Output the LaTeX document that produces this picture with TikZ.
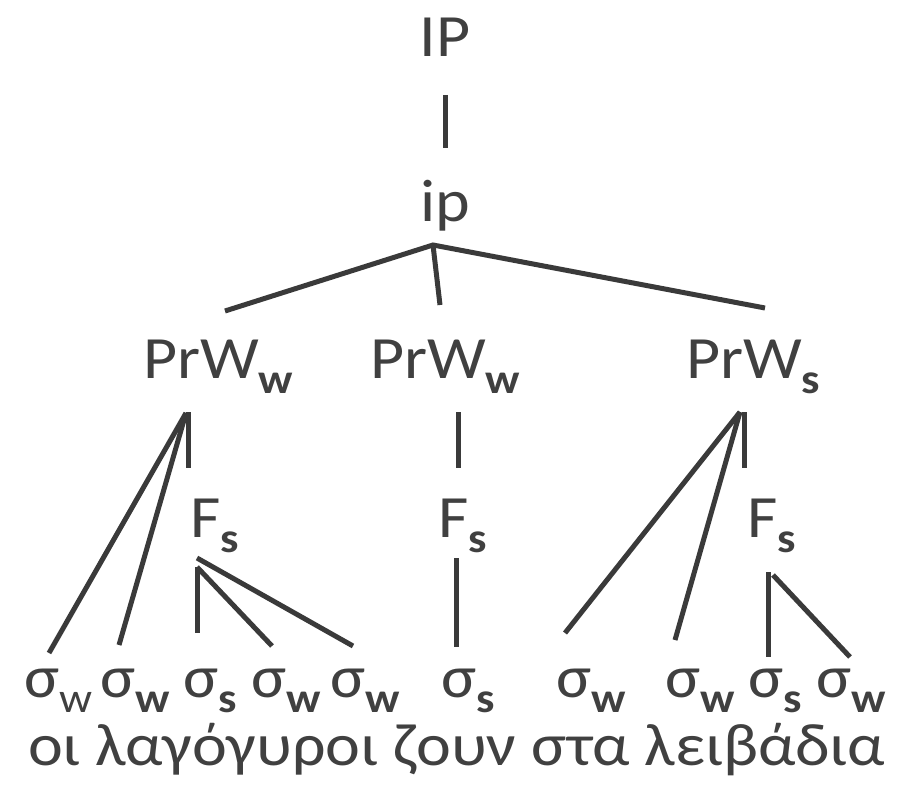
\documentclass[tikz,border=0pt]{standalone}
\usepackage{fontspec}
\setmainfont{Carlito}[FakeStretch=1.1]
\definecolor{txt}{HTML}{404040}
\definecolor{ln}{HTML}{3A3A3A}
\newcommand\mysub[1]{\raisebox{-15pt}{\fontsize{42}{42}\selectfont\bfseries #1}}
\newcommand\mysubr[1]{\raisebox{-15pt}{\fontsize{42}{42}\selectfont #1}}
\begin{document}
\begin{tikzpicture}[x=1pt,y=-1pt,
  lab/.style={inner sep=0pt,outer sep=0pt,anchor=base west,text=txt,font=\fontsize{60}{60}\selectfont},
  edge/.style={draw=ln,line width=5pt}]
\useasboundingbox (0,0) rectangle (912,791);
% labels
\node[lab,anchor=base] (IP) at (445,57) {IP};
\node[lab,anchor=base] (ip) at (445,222) {ip};
\node[lab] (pw1) at (143,378) {PrW\mysub{w}};
\node[lab] (pw2) at (370,378) {PrW\mysub{w}};
\node[lab] (pw3) at (686,378) {PrW\mysub{s}};
\node[lab] (f1) at (190,537) {F\mysub{s}};
\node[lab] (f2) at (438,537) {F\mysub{s}};
\node[lab] (f3) at (747,537) {F\mysub{s}};
\node[lab] (s1) at (24,697) {σ\mysubr{w}};
\node[lab] (s2) at (100,697) {σ\mysub{w}};
\node[lab] (s3) at (183,697) {σ\mysub{s}};
\node[lab] (s4) at (251,697) {σ\mysub{w}};
\node[lab] (s5) at (330,697) {σ\mysub{w}};
\node[lab] (s6) at (441,697) {σ\mysub{s}};
\node[lab] (s7) at (556,697) {σ\mysub{w}};
\node[lab] (s8) at (665,697) {σ\mysub{w}};
\node[lab] (s9) at (748,697) {σ\mysub{s}};
\node[lab] (s10) at (816,697) {σ\mysub{w}};
\node[lab] (gr) at (28,765) {οι λαγόγυροι ζουν στα λειβάδια};
% connector points
\coordinate (IPb) at (445,95);
\coordinate (ipt) at (445,148);
\coordinate (ipa) at (433,245);
\coordinate (p1t) at (225,311);
\coordinate (p2t) at (440,305);
\coordinate (p3t) at (765,308);
\coordinate (a1) at (186,413);
\coordinate (v1b) at (188,468);
\coordinate (v1t) at (188,412);
\coordinate (s1t) at (49,653);
\coordinate (s2t) at (119,645);
\coordinate (f1a) at (197,558);
\coordinate (f1b) at (197,567);
\coordinate (s3t) at (197,633);
\coordinate (s4t) at (272,646);
\coordinate (s5t) at (353,646);
\coordinate (v2t) at (458,412);
\coordinate (v2b) at (458,468);
\coordinate (f2b) at (456,558);
\coordinate (s6t) at (456,647);
\coordinate (a3) at (740,412);
\coordinate (v3t) at (744,412);
\coordinate (v3b) at (744,468);
\coordinate (s7t) at (565,633);
\coordinate (s8t) at (675,640);
\coordinate (f3a) at (768,572);
\coordinate (f3b) at (773,575);
\coordinate (s9t) at (768,657);
\coordinate (s10t) at (850,657);
% connectors
\draw[edge] (IPb) -- (ipt);
\draw[edge] (p1t) -- (ipa) -- (p3t);
\draw[edge] (ipa) -- (p2t);
\draw[edge] (v1t) -- (v1b);
\draw[edge] (a1) -- (s1t);
\draw[edge] (a1) -- (s2t);
\draw[edge] (f1a) -- (s5t);
\draw[edge] (f1b) -- (s3t);
\draw[edge] (f1b) -- (s4t);
\draw[edge] (v2t) -- (v2b);
\draw[edge] (f2b) -- (s6t);
\draw[edge] (v3t) -- (v3b);
\draw[edge] (a3) -- (s7t);
\draw[edge] (a3) -- (s8t);
\draw[edge] (f3a) -- (s9t);
\draw[edge] (f3b) -- (s10t);
\end{tikzpicture}
\end{document}
